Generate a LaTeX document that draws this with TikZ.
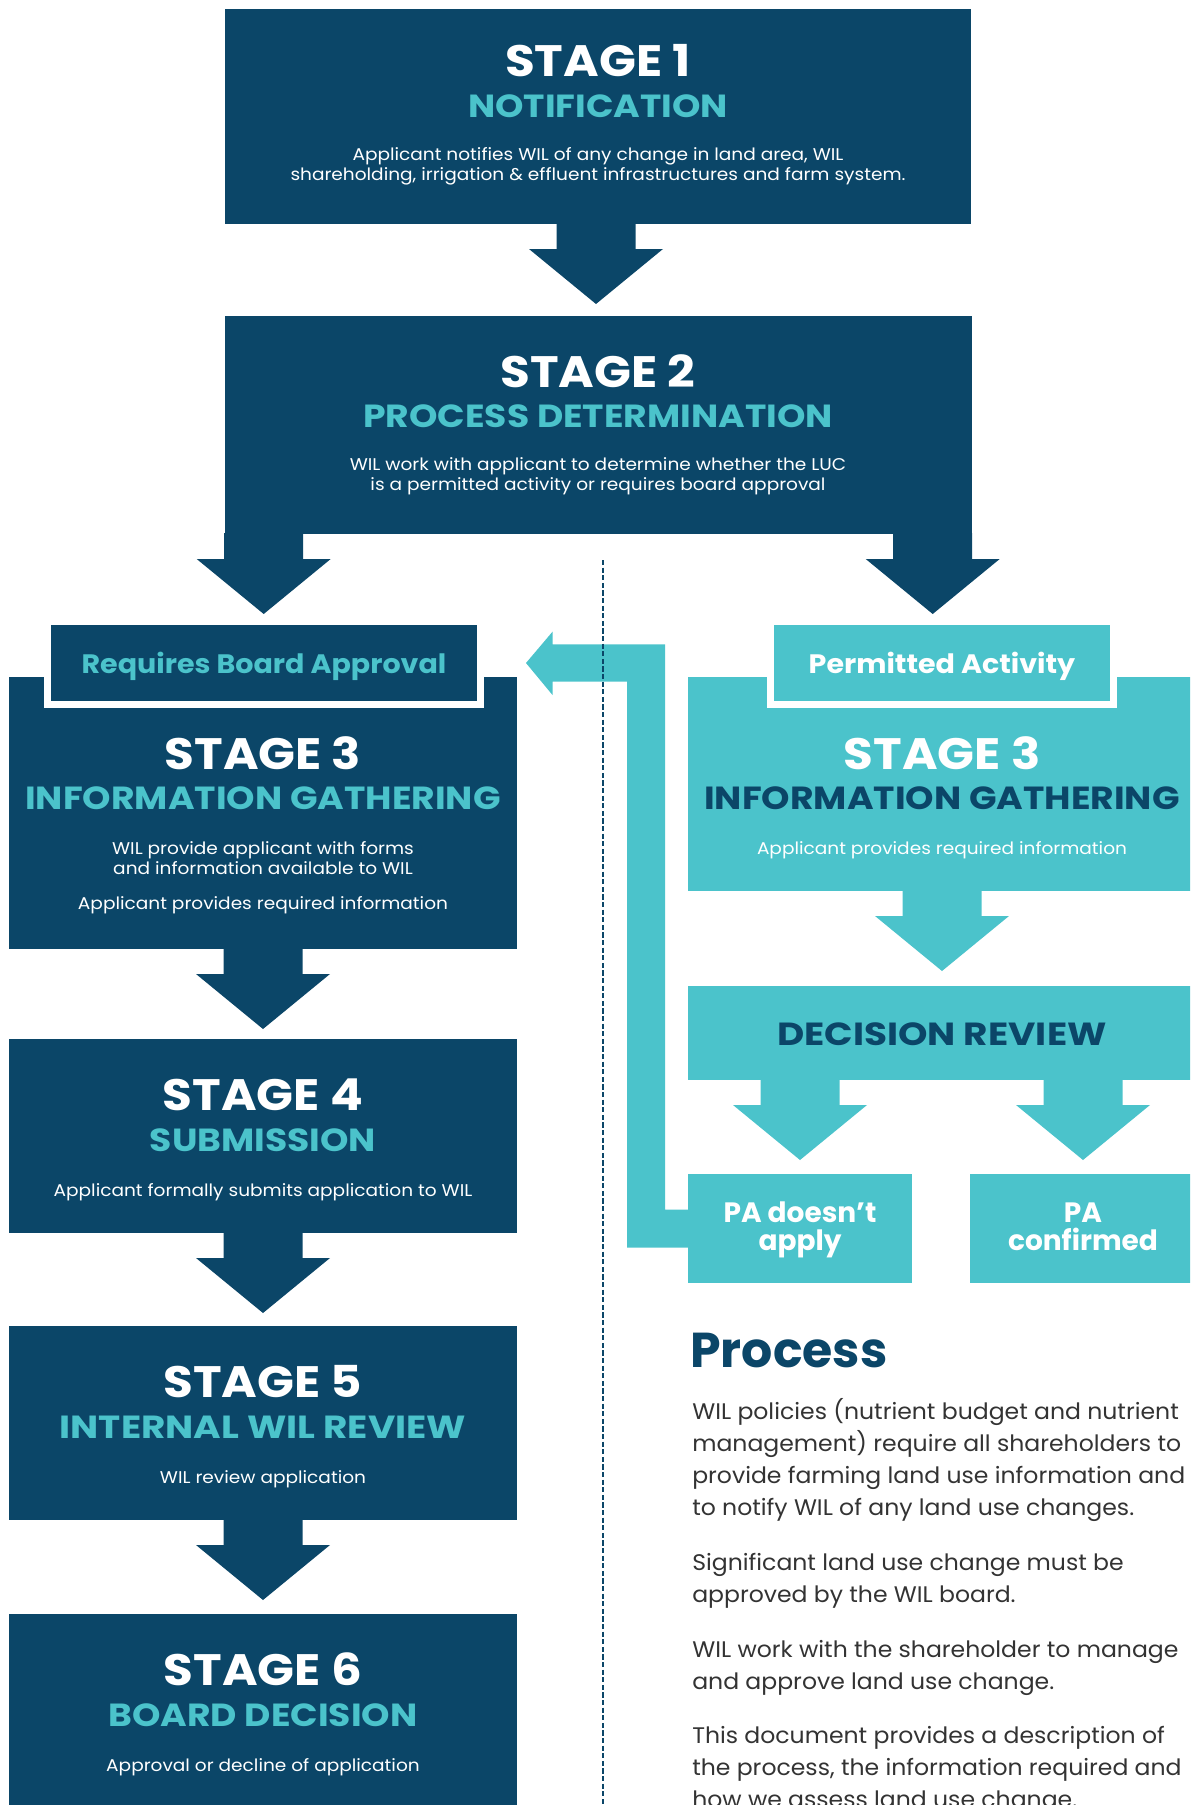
\documentclass[tikz,border=0pt]{standalone}
\usepackage{fontspec}
\setmainfont{Poppins}
\newfontfamily\stagefont[FakeStretch=1.10]{Poppins}
\newfontfamily\subfont[FakeStretch=1.13]{Poppins}
\newfontfamily\subwidefont[FakeStretch=1.17]{Poppins}
\newfontfamily\bodyfont[FakeStretch=1.09]{Poppins}
\newfontfamily\labelfont[FakeStretch=1.07]{Poppins}
\newfontfamily\parafont[FakeStretch=1.045]{Poppins}
\usetikzlibrary{calc}
\definecolor{navy}{HTML}{0B4668}
\definecolor{tealc}{HTML}{4BC3CB}
\definecolor{bodygray}{HTML}{333333}
\newcommand\fsz[1]{\fontsize{#1}{#1}\selectfont}
\newcommand\blockarrow[3]{% #1 start coordinate, #2 colour, #3 name
  \fill[#2] ($(#1)+(-39.5,-1)$) coordinate (#3) -- ($(#1)+(39.5,-1)$) -- ($(#1)+(39.5,25)$) -- ($(#1)+(67,25)$)
    -- ($(#1)+(0,80)$) -- ($(#1)+(-67,25)$) -- ($(#1)+(-39.5,25)$) -- cycle;}
\tikzset{
  box/.style 2 args={inner sep=0, outer sep=0, minimum width=#1*0.75pt, minimum height=#2*0.75pt},
  navybox/.style={fill=navy},
  tealbox/.style={fill=tealc},
  labelbox/.style={draw=white, line width=5.25pt},
  stagehead/.style={anchor=base, inner sep=0, text=white, font=\stagefont\fsz{33pt}\bfseries},
  subhead/.style={anchor=base, inner sep=0, font=\subfont\fsz{24pt}\bfseries},
  subwide/.style={anchor=base, inner sep=0, font=\subwidefont\fsz{24pt}\bfseries},
  bodytxt/.style={anchor=base, inner sep=0, text=white, font=\bodyfont\fsz{12.75pt}},
  labeltxt/.style={anchor=base, inner sep=0, font=\labelfont\fsz{20pt}\bfseries},
  patxt/.style={anchor=base, inner sep=0, text=white, font=\fsz{21pt}\bfseries},
  paratxt/.style={anchor=base west, inner sep=0, text=bodygray, font=\parafont\fsz{16.9pt}},
}
\begin{document}
\begin{tikzpicture}[x=0.75pt, y=-0.75pt]
\useasboundingbox (0,0) rectangle (1190,1805);
\clip (0,0) rectangle (1190,1805);

% ---- boxes
\node[box={746}{215}, navybox] (s1) at (598,116.5) {};
\node[box={747}{218}, navybox] (s2) at (598.5,425) {};
\node[box={508}{272}, navybox] (s3l) at (263,813) {};
\node[box={508}{214}, tealbox] (s3r) at (942,784) {};
\node[box={433}{83}, navybox, labelbox] (req) at (264,663) {};
\node[box={343}{83}, tealbox, labelbox] (perm) at (942,663) {};
\node[box={508}{94}, tealbox] (dec) at (942,1033) {};
\node[box={224}{109}, tealbox] (pa1) at (800,1228.5) {};
\node[box={226}{109}, tealbox] (pa2) at (1083,1228.5) {};
\node[box={508}{194}, navybox] (s4) at (263,1136) {};
\node[box={508}{194}, navybox] (s5) at (263,1423) {};
\node[box={508}{200}, navybox] (s6) at (263,1714) {};

% ---- block arrows
\blockarrow{$(s1.south)+(-2,0)$}{navy}{a1}
\blockarrow{$(s2.south -| s3l.north)+(0.7,0)$}{navy}{a2l}
\blockarrow{$(s2.south east)+(-39.3,0)$}{navy}{a2r}
\blockarrow{s3l.south}{navy}{a3}
\blockarrow{s4.south}{navy}{a4}
\blockarrow{s5.south}{navy}{a5}
\blockarrow{s3r.south}{tealc}{a3r}
\blockarrow{dec.south -| pa1.north}{tealc}{ad1}
\blockarrow{dec.south -| pa2.north}{tealc}{ad2}

% ---- feedback arrow from "PA doesn't apply" back to board approval
\coordinate (fbtip) at ($(req.east)+(45.5,0)$);
\fill[tealc] (fbtip) -- ++(26.5,-31.3) -- ++(0,12.6) -| ($(pa1.west)+(-23,-19)$)
  -- ($(pa1.west)+(1,-19)$) -- ($(pa1.west)+(1,19)$) -- ($(pa1.west)+(-61,19)$)
  |- ($(fbtip)+(26.5,18.7)$) -- ++(0,13.3) -- cycle;

% ---- dashed divider
\coordinate (dtop) at (603.4,560);
\coordinate (dbot) at (603.4,1810);
\draw[navy, line width=1.4pt, dash pattern=on 3.9pt off 1.8pt] (dtop) -- (dbot);

% ---- texts stage 1
\node[stagehead] (t1a) at (598,76.7) {STAGE 1};
\node[subhead, text=tealc] (t1b) at (598,117.3) {NOTIFICATION};
\node[bodytxt] (t1c) at (598,160.5) {Applicant notifies WIL of any change in land area, WIL};
\node[bodytxt] (t1d) at (598,180.5) {shareholding, irrigation \& effluent infrastructures and farm system.};
% stage 2
\node[stagehead] (t2a) at (598,387.3) {STAGE 2};
\node[subhead, text=tealc] (t2b) at (598,427.7) {PROCESS DETERMINATION};
\node[bodytxt] (t2c) at (598,470.7) {WIL work with applicant to determine whether the LUC};
\node[bodytxt] (t2d) at (598,490.7) {is a permitted activity or requires board approval};
% labels
\node[labeltxt, text=tealc] (lreq) at (264,673.3) {Requires Board Approval};
\node[labeltxt, text=white] (lperm) at (942,673.3) {Permitted Activity};
% stage 3 left
\node[stagehead] (t3a) at (263,769.3) {STAGE 3};
\node[subhead, text=tealc] (t3b) at (263,809.3) {INFORMATION GATHERING};
\node[bodytxt] (t3c) at (263,854.3) {WIL provide applicant with forms};
\node[bodytxt] (t3d) at (263,874.3) {and information available to WIL};
\node[bodytxt] (t3e) at (263,909) {Applicant provides required information};
% stage 3 right
\node[stagehead] (r3a) at (942,769.3) {STAGE 3};
\node[subhead, text=navy] (r3b) at (942,809.3) {INFORMATION GATHERING};
\node[bodytxt] (r3c) at (942,854.3) {Applicant provides required information};
% decision
\node[subwide, text=navy] (tdec) at (942,1045) {DECISION REVIEW};
\node[patxt] (p1a) at (800,1222.7) {PA doesn’t};
\node[patxt] (p1b) at (800,1250) {apply};
\node[patxt] (p2a) at (1083,1222.7) {PA};
\node[patxt] (p2b) at (1083,1250.7) {confirmed};
% stage 4
\node[stagehead] (t4a) at (263,1110.8) {STAGE 4};
\node[subhead, text=tealc] (t4b) at (263,1151.7) {SUBMISSION};
\node[bodytxt] (t4c) at (263,1196.9) {Applicant formally submits application to WIL};
% stage 5
\node[stagehead] (t5a) at (263,1397.5) {STAGE 5};
\node[subwide, text=tealc] (t5b) at (263,1438.4) {INTERNAL WIL REVIEW};
\node[bodytxt] (t5c) at (263,1483.6) {WIL review application};
% stage 6
\node[stagehead] (t6a) at (263,1685.5) {STAGE 6};
\node[subhead, text=tealc] (t6b) at (263,1726.4) {BOARD DECISION};
\node[bodytxt] (t6c) at (263,1771.6) {Approval or decline of application};

% ---- process text
\node[anchor=base west, inner sep=0, text=navy, font=\fsz{36.75pt}\bfseries] (proc) at (690,1367.7) {Process};
\node[paratxt] (q1) at (692,1419.3) {WIL policies (nutrient budget and nutrient};
\node[paratxt] (q2) at (692,1451.2) {management) require all shareholders to};
\node[paratxt] (q3) at (692,1483.1) {provide farming land use information and};
\node[paratxt] (q4) at (692,1515) {to notify WIL of any land use changes.};
\node[paratxt] (q5) at (692,1570.7) {Significant land use change must be};
\node[paratxt] (q6) at (692,1602.6) {approved by the WIL board.};
\node[paratxt] (q7) at (692,1657.3) {WIL work with the shareholder to manage};
\node[paratxt] (q8) at (692,1689.2) {and approve land use change.};
\node[paratxt] (q9) at (692,1743.3) {This document provides a description of};
\node[paratxt] (q10) at (692,1775.2) {the process, the information required and};
\node[paratxt] (q11) at (692,1807.1) {how we assess land use change.};
\end{tikzpicture}
\end{document}
